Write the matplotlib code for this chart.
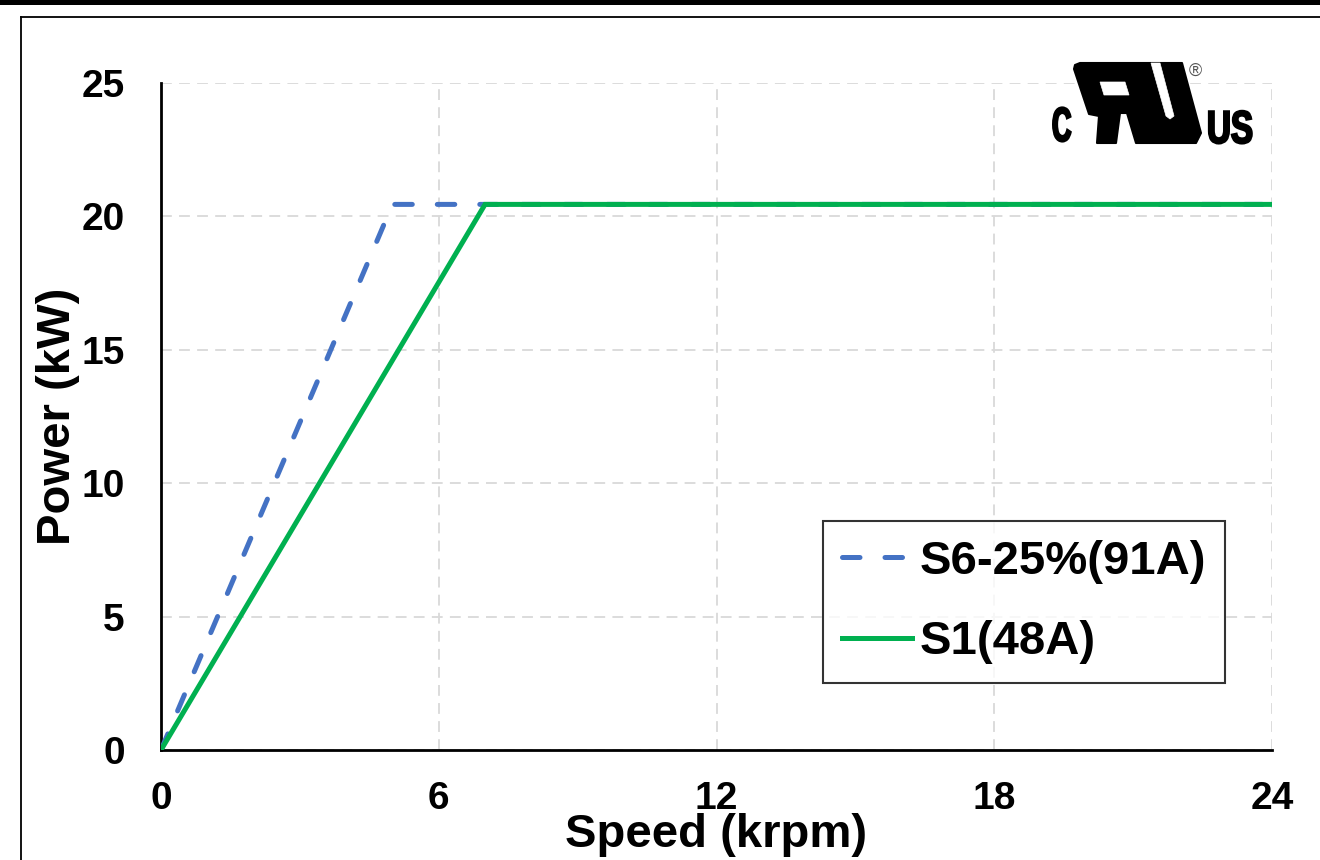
import matplotlib
matplotlib.use("Agg")
import matplotlib.pyplot as plt
from matplotlib.patches import Polygon, Rectangle, PathPatch
from matplotlib.lines import Line2D
from matplotlib.textpath import TextPath
from matplotlib.font_manager import FontProperties
from matplotlib.transforms import Affine2D

# Data
speed_s6 = [0, 5.0, 24]
power_s6 = [0, 20.45, 20.45]
speed_s1 = [0, 7.0, 24]
power_s1 = [0, 20.45, 20.45]
series_labels = ["S6-25%(91A)", "S1(48A)"]
x_ticks = [0, 6, 12, 18, 24]
y_ticks = [0, 5, 10, 15, 20, 25]

W, H = 1320, 860
plt.rcParams["font.family"] = ["Liberation Sans", "DejaVu Sans"]
plt.rcParams["font.weight"] = "bold"

fig = plt.figure(figsize=(W / 100, H / 100), dpi=100)
ax = fig.add_axes([161 / W, 1 - 750 / H, 1111 / W, 667 / H])


def px(x, y):
    return (x / W, 1 - y / H)


# Series
ax.plot(speed_s6, power_s6, color="#4472C4", lw=3.6, linestyle=(0, (3.5, 5)),
        dash_capstyle="round", solid_joinstyle="round", label=series_labels[0], zorder=3)
ax.plot(speed_s1, power_s1, color="#00B050", lw=3.6, solid_joinstyle="miter",
        label=series_labels[1], zorder=4)

ax.set_xlim(0, 24)
ax.set_ylim(0, 25)
ax.set_xticks(x_ticks)
ax.set_yticks(y_ticks)
ax.tick_params(axis="both", length=0, labelsize=28)
ax.tick_params(axis="y", pad=26)
ax.tick_params(axis="x", pad=22)
for lab in ax.get_xticklabels() + ax.get_yticklabels():
    lab.set_fontweight("bold")

ax.grid(True, color="#d9d9d9", linestyle=(0, (6, 4)), lw=1.3, zorder=0)
ax.set_axisbelow(True)
for s in ["top", "right"]:
    ax.spines[s].set_visible(False)
for s in ["left", "bottom"]:
    ax.spines[s].set_linewidth(2)
    ax.spines[s].set_color("black")

ax.set_xlabel("Speed (krpm)", fontsize=34, fontweight="bold")
ax.set_ylabel("Power (kW)", fontsize=34, fontweight="bold")
ax.xaxis.set_label_coords(0.5, -0.095)
ax.yaxis.set_label_coords(-0.073, 0.5)

leg = ax.legend(loc="lower right", bbox_to_anchor=(0.9577, 0.1), fontsize=34,
                frameon=True, fancybox=False, handlelength=1.47, handletextpad=0.17,
                borderpad=0.4, labelspacing=0.78, borderaxespad=0)
leg.get_frame().set_edgecolor("black")
leg.get_frame().set_linewidth(1.5)
for t in leg.get_texts():
    t.set_fontweight("bold")

# Outer frame
fig.add_artist(Rectangle(px(0, 5), 1, 5 / H, transform=fig.transFigure,
                         facecolor="black", edgecolor="none"))
fig.add_artist(Line2D([21 / W, 1], [1 - 17 / H, 1 - 17 / H], transform=fig.transFigure,
                      color="black", lw=1.3))
fig.add_artist(Line2D([21 / W, 21 / W], [0, 1 - 17 / H], transform=fig.transFigure,
                      color="black", lw=1.3))

# cRUus logo
body = [(1080, 63), (1182, 63), (1201, 133), (1196, 143), (1136, 143), (1127, 113),
        (1120, 113), (1116, 143), (1097, 143), (1099, 116), (1089, 114), (1074, 69),
        (1075, 65)]
hole = [(1100, 82), (1125, 82), (1129, 95), (1104, 95)]
slit = [(1151, 63), (1160, 63), (1174, 116), (1170, 119), (1166, 116)]
fig.add_artist(Polygon([px(*p) for p in body], closed=True, transform=fig.transFigure,
                       facecolor="black", edgecolor="black", lw=1.5, joinstyle="round"))
for shape in (hole, slit):
    fig.add_artist(Polygon([px(*p) for p in shape], closed=True, transform=fig.transFigure,
                           facecolor="white", edgecolor="white", lw=0.5))

fp = FontProperties(family="Liberation Sans", weight="bold")
for txt, x0, y0, size, sx in (("C", 1052, 141, 48, 0.56), ("US", 1207, 143, 46, 0.72)):
    path = TextPath((0, 0), txt, size=size, prop=fp)
    tr = Affine2D().scale(sx / W, 1 / H).translate(x0 / W, 1 - y0 / H) + fig.transFigure
    fig.add_artist(PathPatch(path, transform=tr, facecolor="black", edgecolor="black",
                             lw=1.6))
fig.text(*px(1195, 71), "\u00ae", fontsize=13, color="#555555", ha="center", va="center",
         fontweight="normal")

fig.savefig("out.png", dpi=100)
